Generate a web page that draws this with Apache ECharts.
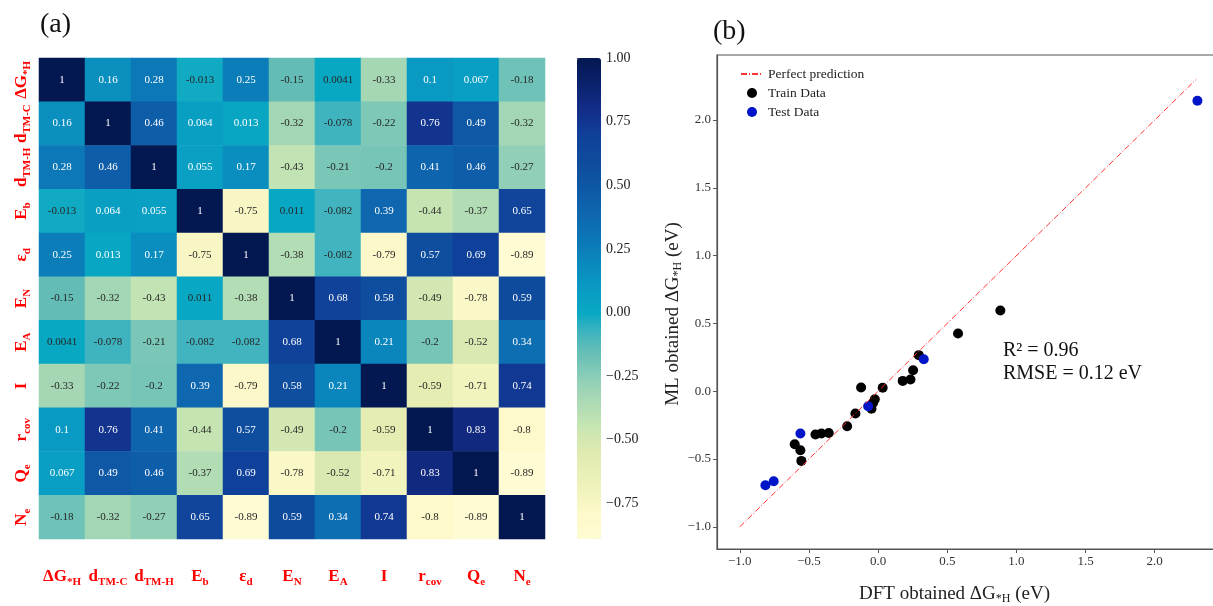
<!DOCTYPE html>
<html>
<head>
<meta charset="utf-8">
<script src="https://cdn.jsdelivr.net/npm/echarts@6/dist/echarts.min.js"></script>
<style>
html, body { margin: 0; padding: 0; background: #fff; }
#chart { width: 1213px; height: 606px; }
</style>
</head>
<body>
<div id="chart"></div>
<script>
// feature names: [main, subscript]
var features = [
  ['ΔG', '*H'], ['d', 'TM-C'], ['d', 'TM-H'], ['E', 'b'], ['ε', 'd'], ['E', 'N'],
  ['E', 'A'], ['I', ''], ['r', 'cov'], ['Q', 'e'], ['N', 'e']
];

// correlation matrix, rows top -> bottom
var corr = [
  [1, 0.16, 0.28, -0.013, 0.25, -0.15, 0.0041, -0.33, 0.1, 0.067, -0.18],
  [0.16, 1, 0.46, 0.064, 0.013, -0.32, -0.078, -0.22, 0.76, 0.49, -0.32],
  [0.28, 0.46, 1, 0.055, 0.17, -0.43, -0.21, -0.2, 0.41, 0.46, -0.27],
  [-0.013, 0.064, 0.055, 1, -0.75, 0.011, -0.082, 0.39, -0.44, -0.37, 0.65],
  [0.25, 0.013, 0.17, -0.75, 1, -0.38, -0.082, -0.79, 0.57, 0.69, -0.89],
  [-0.15, -0.32, -0.43, 0.011, -0.38, 1, 0.68, 0.58, -0.49, -0.78, 0.59],
  [0.0041, -0.078, -0.21, -0.082, -0.082, 0.68, 1, 0.21, -0.2, -0.52, 0.34],
  [-0.33, -0.22, -0.2, 0.39, -0.79, 0.58, 0.21, 1, -0.59, -0.71, 0.74],
  [0.1, 0.76, 0.41, -0.44, 0.57, -0.49, -0.2, -0.59, 1, 0.83, -0.8],
  [0.067, 0.49, 0.46, -0.37, 0.69, -0.78, -0.52, -0.71, 0.83, 1, -0.89],
  [-0.18, -0.32, -0.27, 0.65, -0.89, 0.59, 0.34, 0.74, -0.8, -0.89, 1]
];
var colorbarTicks = [-0.75, -0.5, -0.25, 0, 0.25, 0.5, 0.75, 1];

// parity plot (DFT, ML)
var trainData = [
  [-0.603, -0.391], [-0.562, -0.435], [-0.555, -0.514], [-0.453, -0.320], [-0.41, -0.312],
  [-0.357, -0.308], [-0.224, -0.258], [-0.164, -0.165], [-0.123, 0.027], [0.033, 0.025],
  [-0.024, -0.059], [-0.036, -0.085], [-0.048, -0.13], [0.178, 0.076], [0.234, 0.086],
  [0.253, 0.155], [0.294, 0.266], [0.578, 0.426], [0.884, 0.595]
];
var testData = [
  [-0.815, -0.694], [-0.755, -0.664], [-0.562, -0.312], [-0.072, -0.111], [0.33, 0.236], [2.309, 2.142]
];
var perfectLine = [[-1, -1], [2.3, 2.3]];
var parityTicks = [-1, -0.5, 0, 0.5, 1, 1.5, 2];

var SERIF = '"Liberation Serif", "DejaVu Serif", serif';

// colour stops (value -> colour)
var cmapStops = [
  [-0.89, '#fffcd4'], [-0.8, '#fdf9cb'], [-0.7, '#f1f3bc'], [-0.55, '#e0ebb0'], [-0.45, '#c8e5b2'],
  [-0.3, '#9cd4b6'], [-0.2, '#76c5b7'], [-0.15, '#63bdb6'], [-0.08, '#40b4bf'], [0, '#08a8c3'],
  [0.1, '#0a99c3'], [0.2, '#0a88bd'], [0.3, '#0c74b5'], [0.4, '#0e65ae'], [0.5, '#0e57a5'],
  [0.6, '#0f4a9c'], [0.7, '#10409a'], [0.8, '#132c87'], [1, '#031750']
];
function hexRgb(h) {
  return [parseInt(h.substr(1, 2), 16), parseInt(h.substr(3, 2), 16), parseInt(h.substr(5, 2), 16)];
}
function cmapAt(v) {
  for (var k = 1; k < cmapStops.length; k++) {
    if (v <= cmapStops[k][0] || k === cmapStops.length - 1) {
      var a = cmapStops[k - 1], b = cmapStops[k];
      var t = Math.max(0, Math.min(1, (v - a[0]) / (b[0] - a[0])));
      var ca = hexRgb(a[1]), cb = hexRgb(b[1]);
      return 'rgb(' + [0, 1, 2].map(function (c) { return Math.round(ca[c] + (cb[c] - ca[c]) * t); }).join(',') + ')';
    }
  }
}
var cmap = [];
for (var n = 0; n <= 189; n++) cmap.push(cmapAt(-0.89 + 1.89 * n / 189));

function annot(v) {
  return String(Number(v.toPrecision(2)));
}
function minus(s) {
  return s.replace('-', '\u2212');
}
function featLabel(i) {
  var f = features[i];
  return f[1] ? '{m|' + f[0] + '}{s|' + f[1] + '}' : '{m|' + f[0] + '}';
}

var heatData = [];
for (var i = 0; i < corr.length; i++) {
  for (var j = 0; j < corr[i].length; j++) {
    var v = corr[i][j];
    heatData.push({
      value: [j, i, v],
      label: { color: v >= 0.012 ? '#ffffff' : '#262626' }
    });
  }
}

var labelRich = {
  m: { fontFamily: SERIF, fontWeight: 'bold', fontSize: 17, color: '#ff0000', lineHeight: 22 },
  s: { fontFamily: SERIF, fontWeight: 'bold', fontSize: 11, color: '#ff0000', lineHeight: 12, verticalAlign: 'bottom' }
};
var nameRich = {
  m: { fontFamily: SERIF, fontSize: 19, color: '#222', lineHeight: 22 },
  s: { fontFamily: SERIF, fontSize: 12, color: '#222', lineHeight: 13, verticalAlign: 'bottom' }
};

var chart = echarts.init(document.getElementById('chart'));
chart.setOption({
  animation: false,
  backgroundColor: '#ffffff',
  textStyle: { fontFamily: SERIF },
  grid: [
    { left: 39, top: 58, width: 506, height: 481, outerBoundsMode: 'none' },
    { left: 717, top: 55, width: 502, height: 494, outerBoundsMode: 'none', show: true, borderColor: '#555', borderWidth: 1.2 },
    { left: 577, top: 58, width: 24, height: 481, outerBoundsMode: 'none' }
  ],
  xAxis: [
    {
      gridIndex: 0, type: 'category', data: features.map(function (f, k) { return k; }),
      axisLine: { show: false }, splitLine: { show: false },
      axisTick: { alignWithLabel: true, interval: 0, length: 4, lineStyle: { color: '#333' } },
      axisLabel: { interval: 0, margin: 27, formatter: function (v, k) { return featLabel(k); }, rich: labelRich }
    },
    {
      gridIndex: 1, type: 'value', min: -1.165, max: 2.465,
      splitLine: { show: false },
      axisLine: { onZero: false, lineStyle: { color: '#555', width: 1.2 } },
      axisTick: { customValues: parityTicks, length: 4, lineStyle: { color: '#555' } },
      axisLabel: {
        customValues: parityTicks, color: '#333', fontSize: 13, fontFamily: SERIF, margin: 6,
        formatter: function (v) { return minus(v.toFixed(1)); }
      },
      name: '{m|DFT obtained ΔG}{s|*H}{m| (eV)}', nameLocation: 'middle', nameGap: 34,
      nameTextStyle: { rich: nameRich, padding: [0, 27, 0, 0] }
    },
    { gridIndex: 2, type: 'value', show: false }
  ],
  yAxis: [
    {
      gridIndex: 0, type: 'category', inverse: true, data: features.map(function (f, k) { return k; }),
      axisLine: { show: false }, splitLine: { show: false },
      axisTick: { alignWithLabel: true, interval: 0, length: 4, lineStyle: { color: '#333' } },
      axisLabel: { interval: 0, margin: 6, rotate: 90, formatter: function (v, k) { return featLabel(k); }, rich: labelRich }
    },
    {
      gridIndex: 1, type: 'value', min: -1.164, max: 2.48,
      splitLine: { show: false },
      axisLine: { onZero: false, lineStyle: { color: '#555', width: 1.2 } },
      axisTick: { customValues: parityTicks, length: 4, lineStyle: { color: '#555' } },
      axisLabel: {
        customValues: parityTicks, color: '#333', fontSize: 13, fontFamily: SERIF, margin: 6,
        formatter: function (v) { return minus(v.toFixed(1)); }
      },
      name: '{m|ML obtained ΔG}{s|*H}{m| (eV)}', nameLocation: 'middle', nameGap: 22, nameRotate: 90,
      nameTextStyle: { rich: nameRich, padding: [0, 24, 0, 0] }
    },
    {
      gridIndex: 2, type: 'value', position: 'right', min: -0.89, max: 1,
      axisLine: { show: false }, splitLine: { show: false },
      axisTick: { customValues: colorbarTicks, length: 4, lineStyle: { color: '#333' } },
      axisLabel: {
        customValues: colorbarTicks, color: '#222', fontSize: 14, fontFamily: SERIF, margin: 5,
        formatter: function (v) { return minus(v.toFixed(2)); }
      }
    }
  ],
  visualMap: {
    type: 'continuous', seriesIndex: 0, min: -0.89, max: 1,
    left: 577, top: 58, itemWidth: 24, itemHeight: 481, padding: 0,
    calculable: false, showLabel: false,
    inRange: { color: cmap }
  },
  legend: {
    orient: 'vertical', left: 735, top: 62, itemWidth: 22, itemHeight: 10, itemGap: 5,
    textStyle: { fontFamily: SERIF, fontSize: 13.5, color: '#222' },
    data: [
      { name: 'Perfect prediction', itemStyle: { opacity: 0 } },
      { name: 'Train Data', icon: 'circle' },
      { name: 'Test Data', icon: 'circle' }
    ]
  },
  graphic: [
    { type: 'text', left: 40, top: 11, style: { text: '(a)', font: '28px ' + SERIF, fill: '#111' } },
    { type: 'text', left: 713, top: 18, style: { text: '(b)', font: '28px ' + SERIF, fill: '#111' } },
    { type: 'text', left: 1003, top: 341, style: { text: 'R² = 0.96', font: '20px ' + SERIF, fill: '#111' } },
    { type: 'text', left: 1003, top: 364, style: { text: 'RMSE = 0.12 eV', font: '20px ' + SERIF, fill: '#111' } }
  ],
  series: [
    {
      type: 'heatmap', xAxisIndex: 0, yAxisIndex: 0, data: heatData,
      label: { show: true, fontFamily: SERIF, fontSize: 11, formatter: function (p) { return annot(p.value[2]); } },
      emphasis: { disabled: true }
    },
    {
      name: 'Perfect prediction', type: 'line', xAxisIndex: 1, yAxisIndex: 1, data: perfectLine,
      symbol: 'none', color: '#ff3333',
      lineStyle: { color: '#ff3333', width: 1, type: [6, 2, 1, 2] }
    },
    {
      name: 'Train Data', type: 'scatter', xAxisIndex: 1, yAxisIndex: 1, data: trainData,
      symbolSize: 10, itemStyle: { color: '#000000', opacity: 1 }
    },
    {
      name: 'Test Data', type: 'scatter', xAxisIndex: 1, yAxisIndex: 1, data: testData,
      symbolSize: 10, itemStyle: { color: '#0014c8', opacity: 1 }
    },
    { type: 'scatter', xAxisIndex: 2, yAxisIndex: 2, data: [] }
  ]
});
</script>
</body>
</html>
